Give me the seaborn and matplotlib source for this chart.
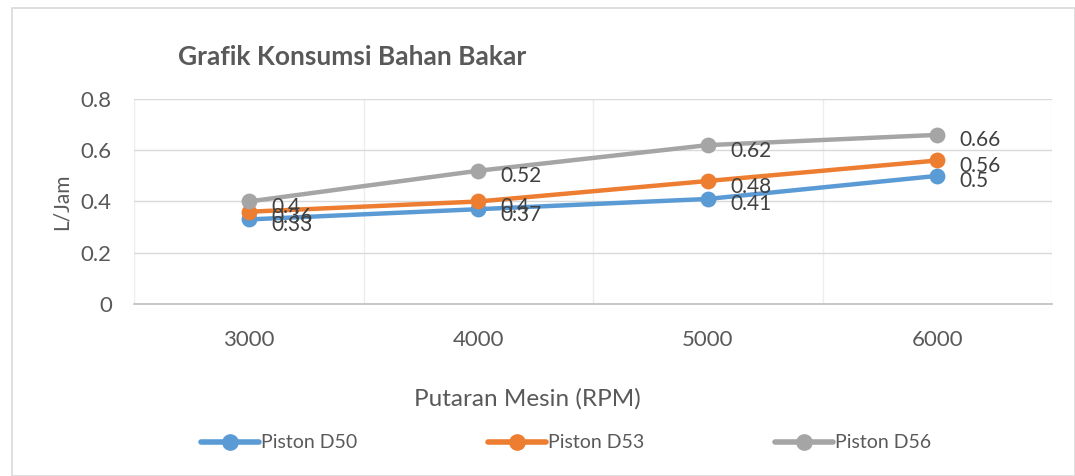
import numpy as np
import pandas as pd
import matplotlib.pyplot as plt
import seaborn as sns
from matplotlib.patches import Rectangle
from matplotlib.lines import Line2D

rpm = ["3000", "4000", "5000", "6000"]
d50 = [0.33, 0.37, 0.41, 0.5]
d53 = [0.36, 0.4, 0.48, 0.56]
d56 = [0.4, 0.52, 0.62, 0.66]
series = ["Piston D50", "Piston D53", "Piston D56"]
colors = ["#5B9BD5", "#ED7D31", "#A5A5A5"]

df = pd.DataFrame({
    "rpm": rpm * 3,
    "val": d50 + d53 + d56,
    "series": np.repeat(series, len(rpm)),
})

sns.set_theme(style="white")
plt.rcParams['font.family'] = ['Lato', 'DejaVu Sans']
txt = "#595959"

fig = plt.figure(figsize=(10.75, 4.76), dpi=100)
ax = fig.add_axes([134/1075, 1-304/476, (1052-134)/1075, (304-99)/476])

sns.pointplot(data=df, x="rpm", y="val", hue="series", order=rpm,
              palette=colors, markers="o", markersize=9, linewidth=3.2,
              ax=ax, legend=False)

# data labels
for s, vals in zip(series, [d50, d53, d56]):
    for i, v in enumerate(vals):
        ax.annotate(f"{v:g}", (i, v), xytext=(16, -4), textcoords="offset points",
                    ha="left", va="center", fontsize=15, color="#404040")

ax.set_xlim(-0.5, 3.5)
ax.set_ylim(0, 0.8)
ax.set_yticks([0, 0.2, 0.4, 0.6, 0.8])
ax.set_yticklabels(["0", "0.2", "0.4", "0.6", "0.8"])
ax.set_xticks(np.arange(-0.5, 3.6, 0.5), minor=True)
ax.grid(True, which="major", axis="y", color="#D9D9D9", lw=1)
ax.grid(True, which="minor", axis="x", color="#EDEDED", lw=1)
ax.set_axisbelow(True)
for sp in ["top", "right", "left"]:
    ax.spines[sp].set_visible(False)
ax.spines["bottom"].set_color("#BFBFBF")
ax.spines["bottom"].set_linewidth(1.2)
ax.tick_params(axis="both", which="both", length=0, labelsize=16, labelcolor=txt)
ax.tick_params(axis="x", pad=19)
ax.tick_params(axis="y", pad=16)
ax.set_xlabel("")
ax.set_ylabel("")

fig.text(178/1075, 1-57/476, "Grafik Konsumsi Bahan Bakar", fontsize=19,
         fontweight="bold", color=txt, ha="left", va="center")
fig.text(527/1075, 1-399/476, "Putaran Mesin (RPM)", fontsize=17.5, color=txt,
         ha="center", va="center")
fig.text(62/1075, 1-202/476, "L/Jam", fontsize=15, color=txt, rotation=90,
         ha="center", va="center")

handles = [Line2D([0], [0], color=c, lw=4, marker="o", markersize=11) for c in colors]
fig.legend(handles, series, loc="center", bbox_to_anchor=(566/1075, 1-443/476),
           ncol=3, frameon=False, fontsize=14, labelcolor=txt, columnspacing=6.7,
           handlelength=3, handletextpad=0.1)

fig.patches.append(Rectangle((12/1075, 0), 1-12/1075, 1-8/476, transform=fig.transFigure,
                             fill=False, edgecolor="#D9D9D9", lw=1.2))

fig.savefig("out.png", dpi=100)
